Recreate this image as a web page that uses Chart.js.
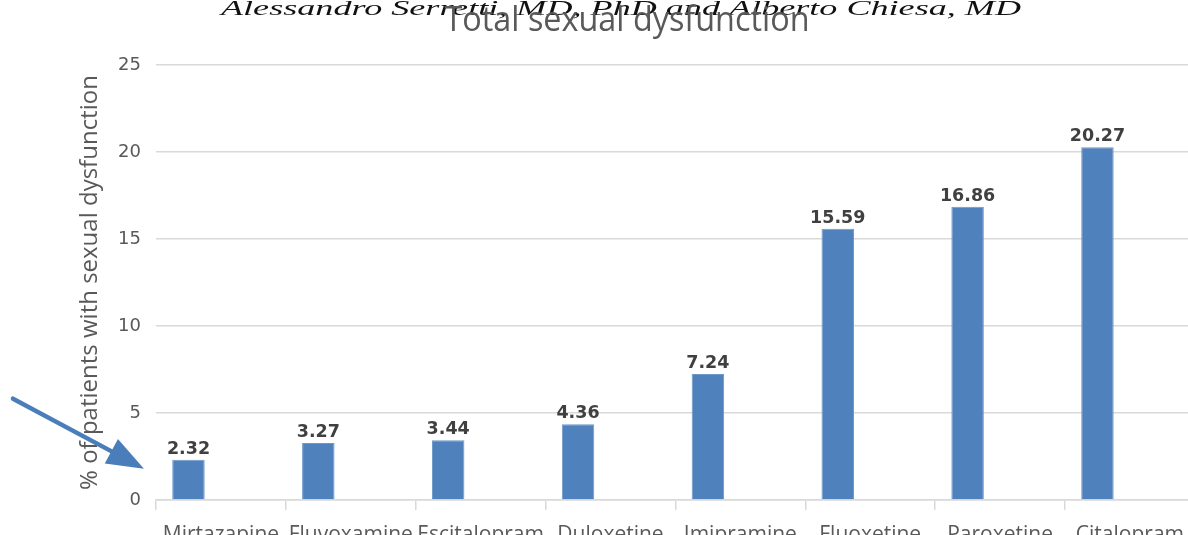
<!DOCTYPE html>
<html>
<head>
<meta charset="utf-8">
<title>Total sexual dysfunction</title>
<script src="https://cdn.jsdelivr.net/npm/chart.js@4"></script>
<style>
  html, body { margin: 0; padding: 0; background: #ffffff; overflow: hidden; }
  #wrap { position: absolute; left: 0; top: 0; width: 1196px; height: 560px; }
</style>
</head>
<body>
<div id="wrap"><canvas id="chart" width="1196" height="560"></canvas></div>
<script>
// Antidepressants, ordered by rate of total sexual dysfunction
const categories = ['Mirtazapine', 'Fluvoxamine', 'Escitalopram', 'Duloxetine',
                    'Imipramine', 'Fluoxetine', 'Paroxetine', 'Citalopram'];
// % of patients with sexual dysfunction
const dysfunctionRates = [2.32, 3.27, 3.44, 4.36, 7.24, 15.59, 16.86, 20.27];
// Second series of the workbook chart: present but with no values
const emptySeries = [null, null, null, null, null, null, null, null];
// Value axis ticks
const yTicks = [0, 5, 10, 15, 20, 25];

const chartTitle = 'Total sexual dysfunction';
const bylineText = 'Alessandro Serretti, MD, PhD and Alberto Chiesa, MD';
const yAxisTitle = '% of patients with sexual dysfunction';

const BAR_BLUE = '#4F81BD';
const GRID_GREY = '#d9d9d9';
const TEXT_GREY = '#595959';

// Draws a single line of text stretched to a given width
function fitText(ctx, text, font, color, cx, baseline, width) {
  ctx.save();
  ctx.font = font;
  ctx.fillStyle = color;
  ctx.textBaseline = 'alphabetic';
  ctx.textAlign = 'left';
  const w = ctx.measureText(text).width;
  const sx = width / w;
  ctx.translate(cx - width / 2, baseline);
  ctx.scale(sx, 1);
  ctx.fillText(text, 0, 0);
  ctx.restore();
}

const headerPlugin = {
  id: 'header',
  afterDraw(chart) {
    const ctx = chart.ctx;
    fitText(ctx, bylineText, 'italic 21px "Liberation Serif", "DejaVu Serif", serif',
            '#111111', 621, 15, 800);
    fitText(ctx, chartTitle, '34px "Open Sans", "Liberation Sans", sans-serif',
            TEXT_GREY, 627, 31, 365);
  }
};

// Value labels above each bar
const valueLabelPlugin = {
  id: 'valueLabels',
  afterDatasetsDraw(chart) {
    const ctx = chart.ctx;
    const meta = chart.getDatasetMeta(0);
    ctx.save();
    ctx.font = 'bold 17.5px "DejaVu Sans", sans-serif';
    ctx.fillStyle = '#404040';
    ctx.textAlign = 'center';
    ctx.textBaseline = 'alphabetic';
    meta.data.forEach((bar, i) => {
      ctx.fillText(dysfunctionRates[i].toFixed(2), bar.x, bar.y - 6);
    });
    ctx.restore();
  }
};

// Pointer arrow next to the value axis, aimed at the lowest bar
const arrowPlugin = {
  id: 'pointerArrow',
  afterDraw(chart) {
    const ctx = chart.ctx;
    const y = chart.scales.y;
    const tipX = chart.chartArea.left - 12;
    const tipY = y.getPixelForValue(1.8);
    const startX = tipX - 131;
    const startY = tipY - 70;
    const ang = Math.atan2(tipY - startY, tipX - startX);
    const headLen = 37, headHalf = 14;
    const bx = tipX - headLen * Math.cos(ang);
    const by = tipY - headLen * Math.sin(ang);
    ctx.save();
    ctx.strokeStyle = '#4A7EBB';
    ctx.fillStyle = '#4A7EBB';
    ctx.lineWidth = 4.5;
    ctx.lineCap = 'round';
    ctx.beginPath();
    ctx.moveTo(startX, startY);
    ctx.lineTo(bx + 4 * Math.cos(ang), by + 4 * Math.sin(ang));
    ctx.stroke();
    ctx.beginPath();
    ctx.moveTo(tipX, tipY);
    ctx.lineTo(bx + headHalf * Math.sin(ang), by - headHalf * Math.cos(ang));
    ctx.lineTo(bx - headHalf * Math.sin(ang), by + headHalf * Math.cos(ang));
    ctx.closePath();
    ctx.fill();
    ctx.restore();
  }
};

new Chart(document.getElementById('chart'), {
  type: 'bar',
  data: {
    labels: categories,
    datasets: [
      {
        label: 'Total sexual dysfunction',
        data: dysfunctionRates,
        backgroundColor: BAR_BLUE,
        borderColor: '#6d97c9',
        borderWidth: 1,
        borderSkipped: 'bottom',
        categoryPercentage: 1.0,
        barPercentage: 0.5
      },
      {
        label: '',
        data: emptySeries,
        backgroundColor: BAR_BLUE,
        categoryPercentage: 1.0,
        barPercentage: 0.5
      }
    ]
  },
  options: {
    responsive: false,
    animation: false,
    devicePixelRatio: 1,
    layout: { padding: { top: 65, right: 0, bottom: 0, left: 0 } },
    plugins: {
      legend: { display: false },
      title: { display: false },
      tooltip: { enabled: false }
    },
    scales: {
      x: {
        offset: true,
        grid: {
          offset: true,
          drawOnChartArea: false,
          drawTicks: true,
          tickLength: 10,
          color: GRID_GREY,
          lineWidth: 1.5
        },
        border: { display: true, color: GRID_GREY, width: 1.5 },
        ticks: {
          color: TEXT_GREY,
          font: { family: '"Open Sans", sans-serif', size: 21 },
          padding: 12,
          maxRotation: 0,
          autoSkip: false
        },
        afterFit(scale) { scale.height = 60; }
      },
      y: {
        min: 0,
        max: 25,
        afterBuildTicks(scale) { scale.ticks = yTicks.map(v => ({ value: v })); },
        grid: { color: GRID_GREY, lineWidth: 1.5, drawTicks: false },
        border: { display: false },
        ticks: {
          color: TEXT_GREY,
          font: { family: '"DejaVu Sans", sans-serif', size: 18 },
          padding: 15
        },
        title: {
          display: true,
          text: yAxisTitle,
          color: TEXT_GREY,
          font: { family: '"Open Sans", sans-serif', size: 24 },
          padding: { top: 76, bottom: 0 }
        },
        afterFit(scale) { scale.width = 156; }
      }
    }
  },
  plugins: [headerPlugin, valueLabelPlugin, arrowPlugin]
});
</script>
</body>
</html>
